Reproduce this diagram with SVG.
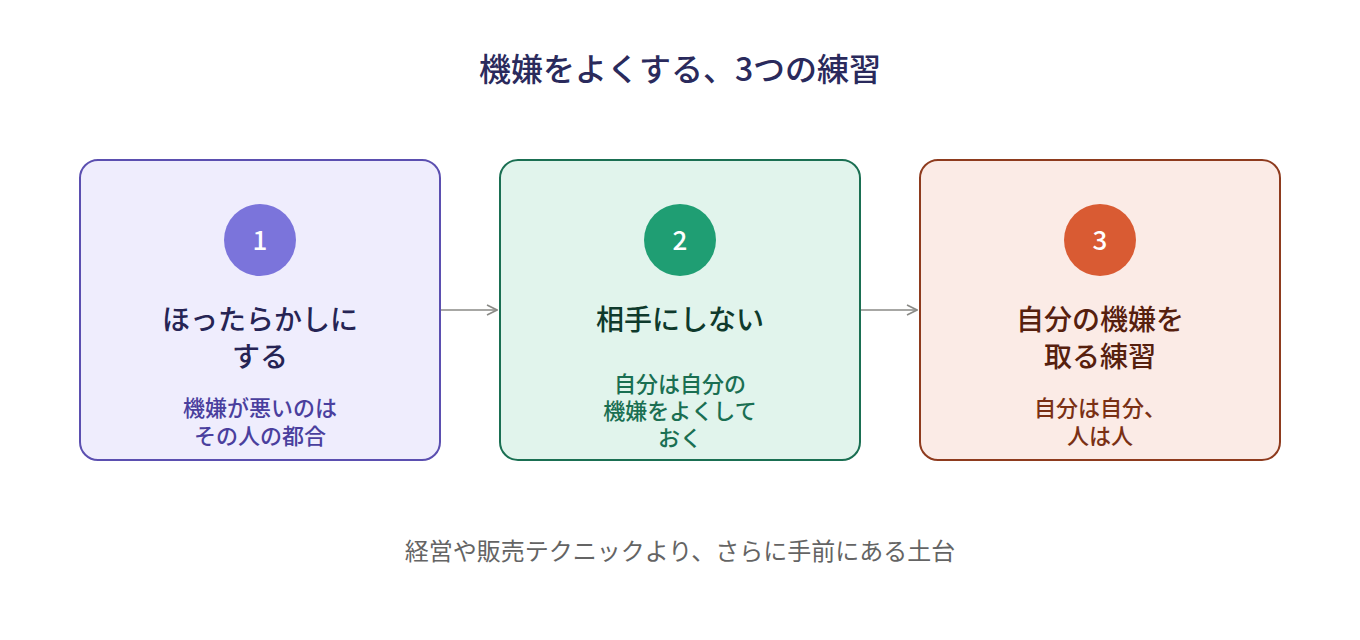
<svg xmlns="http://www.w3.org/2000/svg" width="1360" height="640" viewBox="0 0 1360 640">
<defs>
<marker id="arr" viewBox="0 0 12 12" refX="11" refY="6" markerWidth="12" markerHeight="12" markerUnits="userSpaceOnUse" orient="auto">
<path d="M1,1 L11,6 L1,11" fill="none" stroke="#8a8a86" stroke-width="1.6"/>
</marker>
<style>
text{font-family:"Noto Sans CJK JP","Noto Sans",sans-serif;text-anchor:middle}
.title{font-size:32px;font-weight:500;fill:#2a2a5c}
.num{font-size:26px;font-weight:500;fill:#ffffff}
.h{font-size:28px;font-weight:500}
.s{font-size:22px;font-weight:500}
.foot{font-size:24px;font-weight:400;fill:#646464}
.conn{stroke:#8a8a86;stroke-width:1.6;fill:none}
</style>
</defs>
<rect width="1360" height="640" fill="#ffffff"/>
<text class="title" x="680" y="81">機嫌をよくする、3つの練習</text>
<g id="node1">
<rect x="80" y="160" width="360" height="300" rx="18" fill="#efedfd" stroke="#5b4fb0" stroke-width="2"/>
<circle cx="260" cy="240" r="36" fill="#7b74db"/>
<text class="num" x="260" y="250">1</text>
<text class="h" x="260" y="330" fill="#262454">ほったらかしに</text>
<text class="h" x="260" y="367" fill="#262454">する</text>
<text class="s" x="260" y="416" fill="#4a3f9e">機嫌が悪いのは</text>
<text class="s" x="260" y="444" fill="#4a3f9e">その人の都合</text>
</g>
<g id="node2">
<rect x="500" y="160" width="360" height="300" rx="18" fill="#e1f4ec" stroke="#1a6f52" stroke-width="2"/>
<circle cx="680" cy="240" r="36" fill="#1f9e73"/>
<text class="num" x="680" y="250">2</text>
<text class="h" x="680" y="330" fill="#0f3a2c">相手にしない</text>
<text class="s" x="680" y="392" fill="#1a6f52">自分は自分の</text>
<text class="s" x="680" y="419" fill="#1a6f52">機嫌をよくして</text>
<text class="s" x="680" y="446" fill="#1a6f52">おく</text>
</g>
<g id="node3">
<rect x="920" y="160" width="360" height="300" rx="18" fill="#fbebe6" stroke="#8e3b1e" stroke-width="2"/>
<circle cx="1100" cy="240" r="36" fill="#d95b33"/>
<text class="num" x="1100" y="250">3</text>
<text class="h" x="1100" y="330" fill="#56200e">自分の機嫌を</text>
<text class="h" x="1100" y="367" fill="#56200e">取る練習</text>
<text class="s" x="1100" y="416" fill="#7a3014">自分は自分、</text>
<text class="s" x="1100" y="444" fill="#7a3014">人は人</text>
</g>
<g id="connectors">
<line class="conn" x1="441" y1="310" x2="497" y2="310" marker-end="url(#arr)"/>
<line class="conn" x1="861" y1="310" x2="917" y2="310" marker-end="url(#arr)"/>
</g>
<text class="foot" x="680" y="560">経営や販売テクニックより、さらに手前にある土台</text>
</svg>
